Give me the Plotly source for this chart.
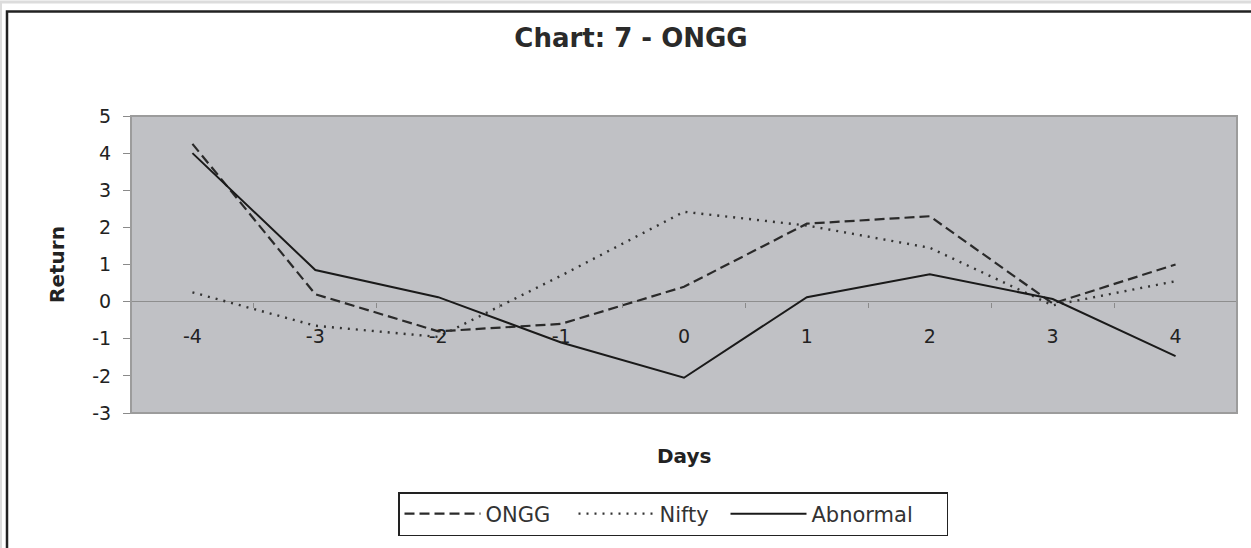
import plotly.graph_objects as go

# ---- data ----
days = ["-4", "-3", "-2", "-1", "0", "1", "2", "3", "4"]
ongg = [4.25, 0.2, -0.8, -0.6, 0.4, 2.1, 2.3, -0.05, 1.0]
nifty = [0.25, -0.65, -0.95, 0.7, 2.42, 2.05, 1.45, -0.1, 0.55]
abnormal = [4.0, 0.85, 0.12, -1.1, -2.05, 0.12, 0.74, 0.07, -1.47]
y_ticks = [-3, -2, -1, 0, 1, 2, 3, 4, 5]
y_ticklabels = [str(v) for v in y_ticks]

W, H = 1251, 548
ML, MR, MT, MB = 131, 14, 116, 135
PW, PH = W - ML - MR, H - MT - MB
YMIN, YMAX = -3, 5


def px_x(p):
    return (p - ML) / PW


def px_y(p):
    return (H - MB - p) / PH


FONT = "DejaVu Sans"

fig = go.Figure()
fig.add_trace(go.Scatter(x=days, y=ongg, name="ONGG", mode="lines", legendwidth=83,
                         line=dict(color="#2a2a2a", width=2.2, dash="10px,5px")))
fig.add_trace(go.Scatter(x=days, y=nifty, name="Nifty", mode="lines", legendwidth=61,
                         line=dict(color="#333333", width=2.4, dash="2px,6px")))
fig.add_trace(go.Scatter(x=days, y=abnormal, name="Abnormal", mode="lines", legendwidth=130,
                         line=dict(color="#1a1a1a", width=2)))

zero_pos = (0 - YMIN) / (YMAX - YMIN)

fig.update_layout(
    width=W, height=H,
    margin=dict(l=ML, r=MR, t=MT, b=MB),
    paper_bgcolor="white",
    plot_bgcolor="#c0c1c5",
    font=dict(family=FONT, color="#222222"),
    title=dict(text="<b>Chart: 7 - ONGG</b>", x=631 / W, xanchor="center",
               xref="container", yref="container", y=1 - 38 / H, yanchor="middle",
               font=dict(family=FONT, size=26, color="#2a2a2a")),
    xaxis=dict(type="category", range=[-0.5, len(days) - 0.5],
               anchor="free", position=zero_pos,
               showline=False, showgrid=False, zeroline=False,
               ticks="outside", tickson="boundaries", ticklen=5, tickcolor="#8a8a8a",
               tickfont=dict(family=FONT, size=19, color="#222222"),
               ticklabelstandoff=21),
    yaxis=dict(range=[YMIN, YMAX], tickvals=y_ticks, ticktext=y_ticklabels,
               showgrid=False,
               zeroline=True, zerolinecolor="#8e8e8e", zerolinewidth=1,
               showline=False, ticks="outside", ticklen=7, tickcolor="#8a8a8a",
               tickfont=dict(family=FONT, size=19, color="#222222"),
               ticklabelstandoff=8,
               title=dict(text="<b>Return</b>", standoff=22,
                          font=dict(family=FONT, size=20, color="#222222"))),
    legend=dict(orientation="h", x=px_x(398), xanchor="left",
                y=px_y(492), yanchor="top",
                bgcolor="white", bordercolor="#222222", borderwidth=1.5,
                font=dict(family=FONT, size=21, color="#333333"),
                itemwidth=76, tracegroupgap=0),
    showlegend=True,
)

# x-axis title
fig.add_annotation(text="<b>Days</b>", x=px_x(684), y=px_y(456), xref="paper", yref="paper",
                   showarrow=False, xanchor="center", yanchor="middle",
                   font=dict(family=FONT, size=20, color="#222222"))

# plot area border
fig.add_shape(type="rect", xref="x domain", yref="y domain", x0=0, x1=1, y0=0, y1=1,
              line=dict(color="#9c9c9c", width=2), layer="above")
# chart area frame
fig.add_shape(type="rect", xref="paper", yref="paper",
              x0=px_x(7), x1=px_x(1265), y0=px_y(570), y1=px_y(11.5),
              line=dict(color="#222222", width=2.5), layer="above")
# outer light page edge
fig.add_shape(type="line", xref="paper", yref="paper",
              x0=px_x(0), x1=px_x(1260), y0=px_y(2), y1=px_y(2),
              line=dict(color="#dcdcdc", width=3))
fig.add_shape(type="line", xref="paper", yref="paper",
              x0=px_x(1), x1=px_x(1), y0=px_y(2), y1=px_y(560),
              line=dict(color="#dcdcdc", width=2))

fig.write_html("out.html", config={"displayModeBar": False},
               post_script="document.body.style.margin='0';")
